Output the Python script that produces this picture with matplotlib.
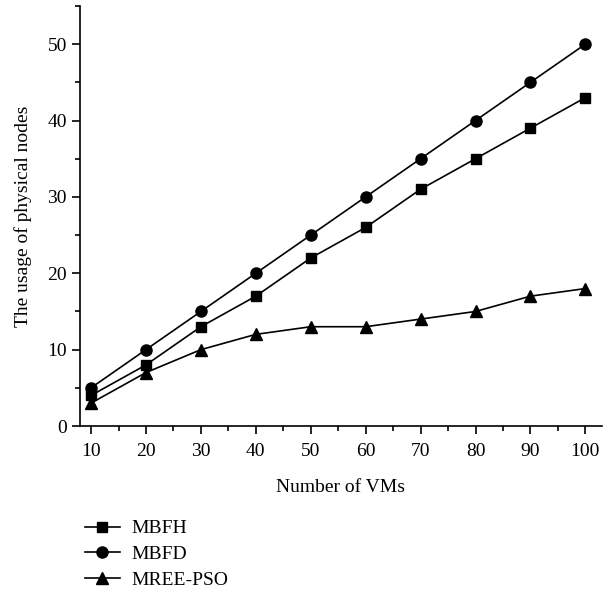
import matplotlib.pyplot as plt
from matplotlib.ticker import MultipleLocator

# data
vms = [10, 20, 30, 40, 50, 60, 70, 80, 90, 100]
mbfh = [4, 8, 13, 17, 22, 26, 31, 35, 39, 43]
mbfd = [5, 10, 15, 20, 25, 30, 35, 40, 45, 50]
mree_pso = [3, 7, 10, 12, 13, 13, 14, 15, 17, 18]

plt.rcParams['font.family'] = ['Liberation Serif', 'DejaVu Serif']

fig = plt.figure(figsize=(6.16, 5.92), dpi=100)
ax = fig.add_axes([0.13, 0.2804, 0.847, 0.7095])

ax.plot(vms, mbfh, color='black', lw=1.2, marker='s', ms=7, label='MBFH')
ax.plot(vms, mbfd, color='black', lw=1.2, marker='o', ms=8, label='MBFD')
ax.plot(vms, mree_pso, color='black', lw=1.2, marker='^', ms=8, label='MREE-PSO')

ax.set_xlim(8, 103)
ax.set_ylim(0, 55)
ax.xaxis.set_major_locator(MultipleLocator(10))
ax.xaxis.set_minor_locator(MultipleLocator(5))
ax.yaxis.set_major_locator(MultipleLocator(10))
ax.yaxis.set_minor_locator(MultipleLocator(5))
ax.set_yticks([0, 10, 20, 30, 40, 50])

for side in ['top', 'right']:
    ax.spines[side].set_visible(False)
for side in ['left', 'bottom']:
    ax.spines[side].set_linewidth(1.2)

ax.tick_params(which='major', direction='out', length=6, width=1.2, labelsize=14)
ax.tick_params(axis='x', which='major', pad=6)
ax.tick_params(which='minor', direction='out', length=3.5, width=1.2)

ax.set_xlabel('Number of VMs', fontsize=14, labelpad=14)
ax.set_ylabel('The usage of physical nodes', fontsize=14, labelpad=11)

fig.legend(loc='upper left', bbox_to_anchor=(0.125, 0.135), frameon=False,
           fontsize=14, handlelength=1.8, handletextpad=0.6, labelspacing=0.42,
           borderaxespad=0)

plt.savefig('out.png', dpi=100)
plt.close('all')
